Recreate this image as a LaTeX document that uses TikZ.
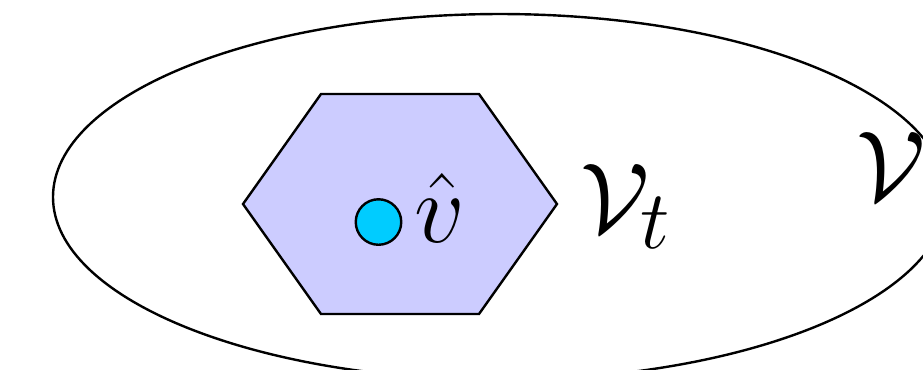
\documentclass[tikz,border=0pt]{standalone}
\definecolor{hexfill}{RGB}{204,204,255}
\definecolor{dotfill}{RGB}{0,204,255}
\begin{document}
\begin{tikzpicture}[x=0.25pt,y=-0.25pt,line width=0.6pt,
  lbl/.style={inner sep=0pt,outer sep=0pt,font=\Huge}]
\useasboundingbox (0,0) rectangle (923,369);
\begin{scope}
\clip (0,0) rectangle (923,369);
\draw (500,197) ellipse [x radius=447, y radius=183];
\end{scope}
\draw[fill=hexfill] (243,204) -- (321,94) -- (479,94) -- (557,204) -- (479,314) -- (321,314) -- cycle;
\node[circle,draw,fill=dotfill,minimum size=45.5*0.25pt,inner sep=0pt] (v) at (378.5,222) {};
\node[lbl,anchor=base west] (vhat) at (414,242) {$\hat{v}$};
\node[lbl,anchor=base west] (vt) at (580,232) {$\mathcal{V}_t$};
\node[lbl,anchor=base west] (V) at (856,200) {$\mathcal{V}$};
\end{tikzpicture}
\end{document}
